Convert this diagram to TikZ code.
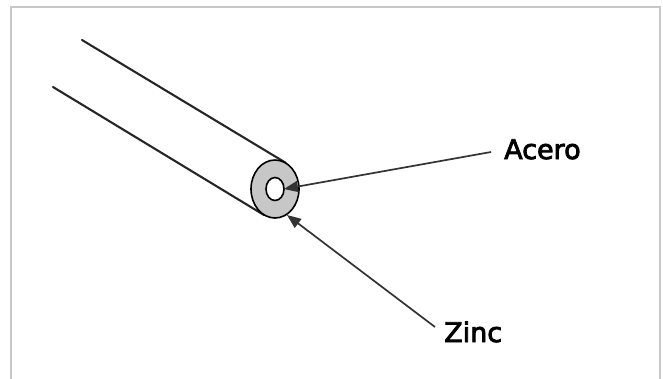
\documentclass[tikz,border=0pt]{standalone}
\usepackage{fontspec}
\setmainfont{DejaVu Sans}
\newfontfamily\tagfont{DejaVu Sans}[FakeBold=3]
\usetikzlibrary{arrows.meta}
\begin{document}
\begin{tikzpicture}[x=1pt,y=-1pt,
  frame/.style={draw=black!22,line width=1.6pt},
  wire/.style={draw=black!85,line width=2.1pt,line cap=round},
  ringfill/.style={draw=black,line width=1.6pt,fill=black!22},
  hole/.style={draw=black,line width=1.6pt,fill=white},
  pointer/.style={draw=black!80,line width=1.7pt,-{Triangle[length=14pt,width=11pt]}},
  label/.style={font=\tagfont\fontsize{27}{30}\selectfont,text=black,inner sep=0pt}]
\useasboundingbox (0,0) rectangle (663,378);
% outer frame, open at the bottom edge
\draw[frame] (11,380) -- (11,7) -- (660,7) -- (660,380);
% cable outline: two tangents to the cross-section
\coordinate (c) at (275,189);
\draw[wire] (82,40) -- (285.7,162.8);
\draw[wire] (53,87) -- (264.3,215.2);
% cross-section: zinc coating and steel core
\fill[white] (c) ellipse [x radius=24,y radius=29];
\draw[ringfill] (c) ellipse [x radius=24,y radius=29];
\draw[hole] (c) ellipse [x radius=9,y radius=11.5];
% labels
\node[label,anchor=base west] (acero) at (504,159) {Acero};
\node[label,anchor=base west] (zinc) at (444,342) {Zinc};
\coordinate (aceroend) at (491,152);
\coordinate (zincend) at (435,327);
\coordinate (coretip) at (284,189);
\coordinate (zinctip) at (287,215);
\draw[pointer] (aceroend) -- (coretip);
\draw[pointer] (zincend) -- (zinctip);
\end{tikzpicture}
\end{document}
